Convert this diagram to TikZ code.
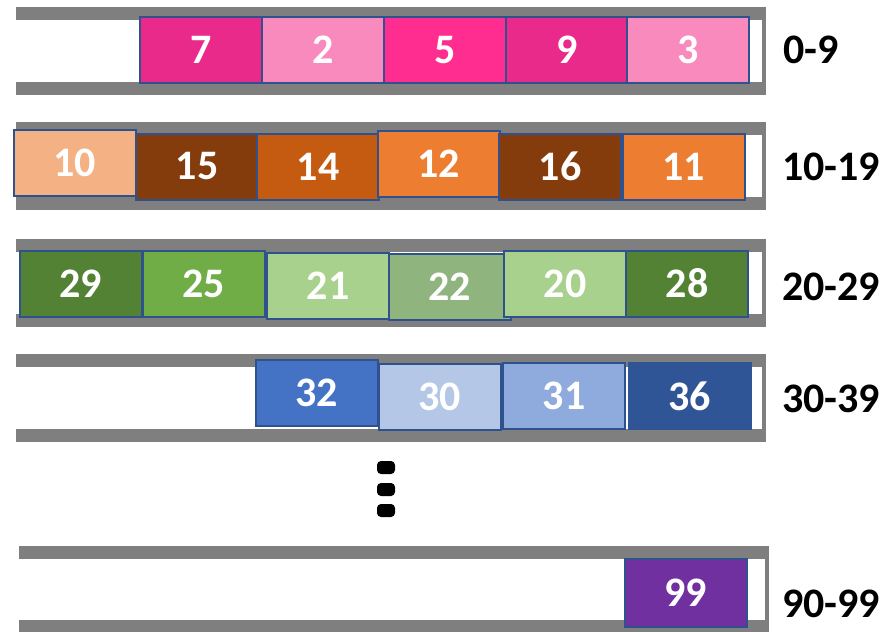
\documentclass[tikz,border=0pt]{standalone}
\usepackage{fontspec}
\setmainfont{Carlito}
\definecolor{barg}{HTML}{7F7F7F}
\definecolor{edgeb}{HTML}{2F528F}
\definecolor{pkA}{HTML}{EA2A8B}
\definecolor{pkB}{HTML}{F88ABE}
\definecolor{pkC}{HTML}{FF2D90}
\definecolor{orA}{HTML}{F4B183}
\definecolor{orB}{HTML}{843C0C}
\definecolor{orC}{HTML}{C55A11}
\definecolor{orD}{HTML}{ED7D31}
\definecolor{gnA}{HTML}{548235}
\definecolor{gnB}{HTML}{70AD47}
\definecolor{gnC}{HTML}{A9D18E}
\definecolor{gnD}{HTML}{8FB47D}
\definecolor{blA}{HTML}{4472C4}
\definecolor{blB}{HTML}{B4C7E7}
\definecolor{blC}{HTML}{8FAADC}
\definecolor{blD}{HTML}{2F5597}
\definecolor{puA}{HTML}{7030A0}
\tikzset{
  numbox/.style={draw=edgeb, line width=2pt, text=white, inner sep=0pt,
    minimum width=122pt, minimum height=66pt,
    font=\fontsize{42}{42}\selectfont\bfseries},
  rangelabel/.style={text=black, inner sep=0pt, anchor=center,
    font=\fontsize{42}{42}\selectfont\bfseries},
  dotmark/.style={fill=black, draw=none, rounded corners=4pt, minimum width=18pt,
    minimum height=13pt, inner sep=0pt}
}
\newcommand{\bucket}[3]{% x-left, top y, bottom-bar top y
  \fill[barg] (#1,#2) rectangle (766+#1-16,#2+13);
  \fill[barg] (#1,#3) rectangle (766+#1-16,#3+13);
  \fill[barg] (762+#1-16,#2+13) rectangle (766+#1-16,#3);
}
\begin{document}
\begin{tikzpicture}[x=1pt,y=-1pt]
\useasboundingbox (0,0) rectangle (884,632);
% bucket frames
\bucket{16}{7}{82}
\bucket{16}{122}{197}
\bucket{16}{239}{314}
\bucket{16}{354}{429}
\bucket{19}{546}{620}
% row 0-9
\node[numbox, fill=pkA] (n7) at (201,50) {7};
\node[numbox, fill=pkB] (n2) at (323,50) {2};
\node[numbox, fill=pkC] (n5) at (445,50) {5};
\node[numbox, fill=pkA] (n9) at (567,50) {9};
\node[numbox, fill=pkB] (n3) at (688,50) {3};
\node[rangelabel] (l0) at (811,50) {0-9};
% row 10-19
\node[numbox, fill=orA] (n10) at (74.5,163) {10};
\node[numbox, fill=orB] (n15) at (197,166.5) {15};
\node[numbox, fill=orC] (n14) at (318,166.5) {14};
\node[numbox, fill=orD] (n12) at (438.5,164) {12};
\node[numbox, fill=orB] (n16) at (560,166.5) {16};
\node[numbox, fill=orD] (n11) at (683.5,167) {11};
\node[rangelabel] (l1) at (831,167) {10-19};
% row 20-29
\node[numbox, fill=gnA] (n29) at (80.5,283.5) {29};
\node[numbox, fill=gnB] (n25) at (203.5,283.5) {25};
\node[numbox, fill=gnC] (n21) at (328,285.5) {21};
\node[numbox, fill=gnD] (n22) at (449.5,287) {22};
\node[numbox, fill=gnC] (n20) at (565,283.5) {20};
\node[numbox, fill=gnA] (n28) at (687,283.5) {28};
\node[rangelabel] (l2) at (831,287) {20-29};
% row 30-39
\node[numbox, fill=blA] (n32) at (316.5,393) {32};
\node[numbox, fill=blB] (n30) at (439.5,397) {30};
\node[numbox, fill=blC] (n31) at (564,395.5) {31};
\node[numbox, fill=blD, draw=blD] (n36) at (689.5,396) {36};
\node[rangelabel] (l3) at (831,399) {30-39};
% dots
\node[dotmark] (d1) at (386,467.5) {};
\node[dotmark] (d2) at (386,489.5) {};
\node[dotmark] (d3) at (386,510.5) {};
% row 90-99
\node[numbox, fill=puA, minimum height=68pt] (n99) at (685.5,593) {99};
\node[rangelabel] (l9) at (831,604) {90-99};
\end{tikzpicture}
\end{document}
